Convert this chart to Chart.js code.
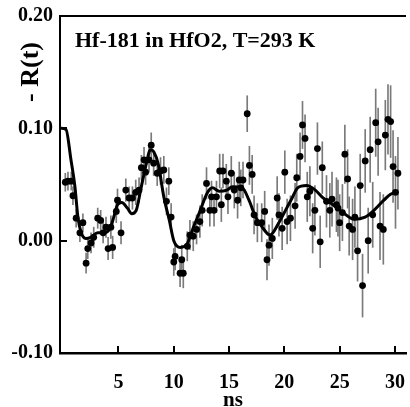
<!DOCTYPE html>
<html>
<head>
<meta charset="utf-8">
<script src="https://cdn.jsdelivr.net/npm/chart.js@4/dist/chart.umd.min.js"></script>
<style>
html,body{margin:0;padding:0;background:#fff;}
#c{display:block;}
</style>
</head>
<body>
<canvas id="c" width="410" height="407"></canvas>
<script>
// ---- data ----
const titleText = "Hf-181 in HfO2, T=293 K";
const yTitle = "- R(t)";
const xTitle = "ns";
const xTickValues = [5, 10, 15, 20, 25, 30];
const yTickValues = [-0.10, 0.00, 0.10, 0.20];

// measured points: time (ns), -R(t), error
const tVals = [0.19,0.43,0.73,0.88,1.17,1.51,1.78,2.07,2.22,2.52,2.76,3.12,3.39,3.61,3.87,4.06,4.31,4.47,4.80,4.91,
  5.23,5.66,5.96,6.26,6.56,6.86,7.07,7.31,7.45,7.76,7.96,8.18,8.50,8.80,9.10,9.34,9.55,9.76,10.00,10.12,
  10.57,10.72,10.86,11.22,11.46,11.76,12.06,12.36,12.57,12.96,13.26,13.41,13.64,13.86,14.15,14.30,14.45,14.75,14.90,15.20,
  15.47,15.77,15.92,16.06,16.26,16.64,16.84,17.09,17.26,17.56,17.95,18.22,18.43,18.61,18.91,19.35,19.51,19.80,20.04,20.25,
  20.55,20.97,21.12,21.42,21.64,21.87,22.07,22.31,22.56,22.76,22.99,23.24,23.43,23.81,24.11,24.31,24.71,24.85,25.00,25.25,
  25.47,25.72,25.86,26.17,26.38,26.62,26.86,27.07,27.31,27.58,27.76,27.99,28.26,28.48,28.65,28.95,29.13,29.37,29.61,29.83,
  30.05,30.27];
const rVals = [0.052,0.053,0.053,0.040,0.020,0.007,0.016,-0.020,-0.007,-0.002,0.003,0.020,0.018,0.007,0.012,-0.007,0.012,-0.006,0.026,0.036,
  0.007,0.045,0.038,0.038,0.043,0.045,0.065,0.072,0.061,0.072,0.085,0.069,0.060,0.062,0.063,0.035,0.053,0.021,-0.019,-0.014,
  -0.029,-0.017,-0.029,-0.005,0.005,0.004,0.010,0.017,0.027,0.051,0.027,0.039,0.027,0.039,0.062,0.032,0.062,0.053,0.039,0.060,
  0.045,0.036,0.054,0.047,0.054,0.113,0.067,0.059,0.023,0.016,0.016,0.026,-0.017,-0.004,0.002,0.038,0.023,0.011,0.061,0.017,
  0.020,0.031,0.056,0.075,0.103,0.091,0.039,0.044,0.011,0.027,0.082,-0.001,0.065,0.035,0.027,0.037,0.032,0.029,0.016,0.025,
  0.077,0.055,0.013,0.010,0.021,-0.009,0.049,-0.040,0.071,0.000,0.081,0.023,0.105,0.088,0.013,0.010,0.094,0.108,0.106,0.066,
  0.043,0.060];
const errVals = [0.008,0.008,0.008,0.008,0.008,0.008,0.008,0.009,0.009,0.009,0.009,0.009,0.009,0.009,0.009,0.010,0.010,0.010,0.010,0.010,
  0.010,0.010,0.010,0.010,0.011,0.011,0.011,0.011,0.011,0.011,0.011,0.011,0.011,0.012,0.012,0.012,0.012,0.012,0.012,0.012,
  0.012,0.013,0.013,0.013,0.013,0.013,0.013,0.014,0.014,0.014,0.014,0.014,0.014,0.014,0.015,0.015,0.015,0.015,0.015,0.015,
  0.016,0.016,0.016,0.016,0.016,0.016,0.017,0.017,0.017,0.017,0.017,0.018,0.018,0.018,0.018,0.019,0.019,0.019,0.019,0.020,
  0.020,0.020,0.021,0.021,0.021,0.021,0.022,0.022,0.022,0.022,0.023,0.023,0.023,0.023,0.024,0.024,0.024,0.025,0.025,0.025,
  0.026,0.026,0.026,0.027,0.027,0.027,0.028,0.028,0.028,0.029,0.029,0.029,0.030,0.030,0.030,0.031,0.031,0.031,0.032,0.032,
  0.032,0.032];

// fitted curve
const fitT = [-0.2,0.25,0.70,1.06,1.33,1.60,2.04,2.49,3.12,3.75,4.29,4.60,4.91,5.30,5.80,6.20,6.60,7.00,7.50,7.90,
  8.20,8.60,9.10,9.60,10.00,10.60,11.20,11.70,12.40,13.00,13.50,14.10,14.80,15.30,16.20,16.80,17.40,18.00,18.70,19.50,
  20.10,20.70,21.20,22.00,22.80,23.50,24.40,25.30,26.30,27.30,28.10,29.00,29.80,30.20];
const fitR = [0.100,0.099,0.072,0.048,0.021,0.008,0.002,0.003,0.007,0.007,0.012,0.022,0.032,0.034,0.029,0.024,0.027,0.045,0.068,0.081,
  0.079,0.068,0.039,0.018,0.000,-0.006,-0.003,0.010,0.027,0.042,0.047,0.044,0.045,0.048,0.047,0.036,0.021,0.012,0.005,0.016,
  0.027,0.038,0.047,0.049,0.045,0.038,0.032,0.025,0.019,0.021,0.027,0.036,0.042,0.042];

// ---- build datasets ----
const pointData = tVals.map((t, i) => ({x: t, y: rVals[i]}));
const errData = tVals.map((t, i) => ({x: t, y: [rVals[i] - errVals[i], rVals[i] + errVals[i]]}));
const fitData = fitT.map((t, i) => ({x: t, y: fitR[i]}));

const FONT = '"Liberation Serif", "Times New Roman", serif';

// frame top line, inward tick marks, in-plot title and rotated y label
const decor = {
  id: 'decor',
  afterDraw(chart) {
    const {ctx, chartArea: a, scales} = chart;
    ctx.save();
    ctx.strokeStyle = '#000';
    ctx.lineWidth = 2;
    ctx.beginPath();
    ctx.moveTo(a.left, a.top);
    ctx.lineTo(a.right, a.top);
    xTickValues.forEach(v => {
      const px = Math.round(scales.x.getPixelForValue(v));
      ctx.moveTo(px, a.bottom);
      ctx.lineTo(px, a.bottom - 7);
    });
    yTickValues.forEach(v => {
      const py = Math.round(scales.y.getPixelForValue(v));
      ctx.moveTo(a.left, py);
      ctx.lineTo(a.left + 7, py);
    });
    ctx.stroke();
    ctx.fillStyle = '#000';
    ctx.font = 'bold 22px ' + FONT;
    ctx.textBaseline = 'middle';
    ctx.textAlign = 'left';
    ctx.fillText(titleText, a.left + 15, a.top + 25);
    ctx.translate(31, a.top + 56);
    ctx.rotate(-Math.PI / 2);
    ctx.textAlign = 'center';
    ctx.font = 'bold 26px ' + FONT;
    ctx.fillText(yTitle, 0, 0);
    ctx.restore();
  }
};

new Chart(document.getElementById('c'), {
  type: 'scatter',
  data: {
    datasets: [
      {
        type: 'bar',
        data: errData,
        backgroundColor: '#7a7a7a',
        borderWidth: 0,
        barThickness: 1,
        order: 3
      },
      {
        type: 'scatter',
        data: pointData,
        pointRadius: 3.4,
        pointBackgroundColor: '#000',
        pointBorderColor: '#000',
        pointBorderWidth: 0,
        order: 2
      },
      {
        type: 'scatter',
        data: fitData,
        showLine: true,
        pointRadius: 0,
        borderColor: '#000',
        borderWidth: 3,
        tension: 0.4,
        cubicInterpolationMode: 'monotone',
        fill: false,
        order: 1
      }
    ]
  },
  options: {
    responsive: false,
    animation: false,
    devicePixelRatio: 1,
    layout: {padding: {top: 16, right: 1, left: 0, bottom: 0}},
    plugins: {legend: {display: false}, tooltip: {enabled: false}, title: {display: false}},
    scales: {
      x: {
        type: 'linear',
        min: -0.29,
        max: 31.0,
        offset: false,
        border: {display: true, color: '#000', width: 2.5},
        grid: {display: false, offset: false, drawOnChartArea: false, drawTicks: false},
        ticks: {color: '#000', font: {family: FONT, size: 20, weight: 'bold'}, padding: 18, maxRotation: 0},
        afterBuildTicks: s => { s.ticks = xTickValues.map(v => ({value: v})); },
        afterFit: s => { s.height = 54; s.paddingLeft = 0; s.paddingRight = 0; },
        title: {display: true, text: xTitle, color: '#000', font: {family: FONT, size: 21, weight: 'bold'}, padding: {top: 0, bottom: -6}}
      },
      y: {
        type: 'linear',
        min: -0.10,
        max: 0.20,
        border: {display: true, color: '#000', width: 2},
        grid: {display: false, drawOnChartArea: false, drawTicks: false},
        ticks: {color: '#000', font: {family: FONT, size: 20, weight: 'bold'}, padding: 7,
          callback: v => v.toFixed(2)},
        afterBuildTicks: s => { s.ticks = yTickValues.map(v => ({value: v})); },
        afterFit: s => { s.width = 60; s.paddingTop = 0; s.paddingBottom = 0; }
      }
    }
  },
  plugins: [decor]
});
</script>
</body>
</html>
